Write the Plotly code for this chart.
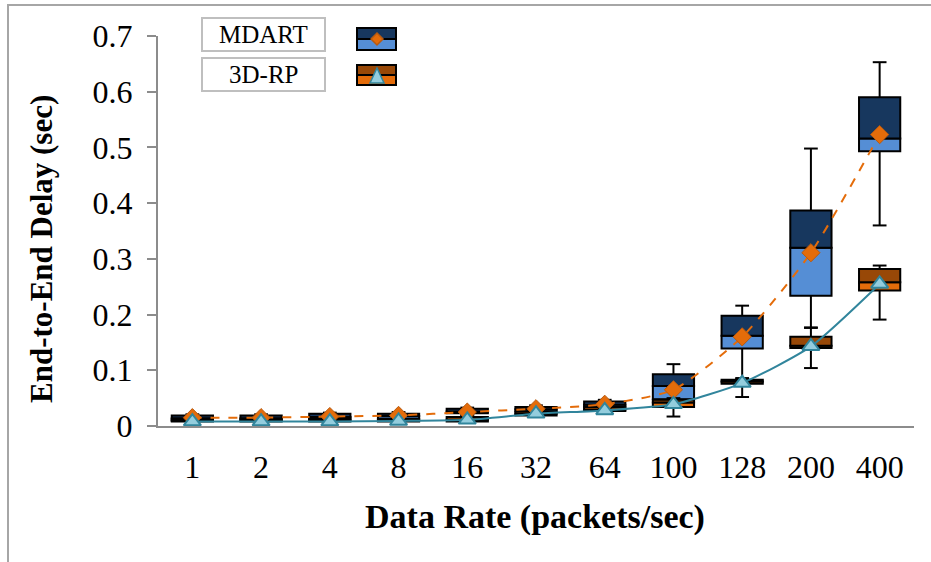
import plotly.graph_objects as go

# Data rates (categories) and box-plot statistics per protocol
rates = ["1", "2", "4", "8", "16", "32", "64", "100", "128", "200", "400"]

mdart_min = [0.008, 0.008, 0.009, 0.010, 0.020, 0.024, 0.030, 0.040, 0.085, 0.177, 0.360]
mdart_q1 = [0.010, 0.010, 0.012, 0.013, 0.023, 0.026, 0.033, 0.048, 0.139, 0.234, 0.493]
mdart_med = [0.014, 0.014, 0.016, 0.018, 0.026, 0.030, 0.038, 0.072, 0.162, 0.320, 0.516]
mdart_q3 = [0.019, 0.019, 0.022, 0.022, 0.031, 0.034, 0.044, 0.093, 0.198, 0.387, 0.590]
mdart_max = [0.021, 0.021, 0.024, 0.025, 0.033, 0.037, 0.047, 0.111, 0.216, 0.498, 0.653]
mdart_mean = [0.015, 0.015, 0.017, 0.019, 0.025, 0.031, 0.039, 0.065, 0.160, 0.311, 0.523]

rp_min = [0.006, 0.006, 0.006, 0.006, 0.006, 0.017, 0.024, 0.017, 0.052, 0.104, 0.191]
rp_q1 = [0.008, 0.008, 0.008, 0.008, 0.008, 0.019, 0.027, 0.034, 0.076, 0.140, 0.243]
rp_med = [0.010, 0.010, 0.010, 0.010, 0.011, 0.022, 0.029, 0.042, 0.080, 0.144, 0.258]
rp_q3 = [0.012, 0.012, 0.013, 0.013, 0.016, 0.026, 0.034, 0.047, 0.083, 0.160, 0.282]
rp_max = [0.014, 0.014, 0.015, 0.015, 0.018, 0.028, 0.036, 0.050, 0.086, 0.176, 0.288]
rp_mean = [0.008, 0.008, 0.008, 0.009, 0.011, 0.022, 0.028, 0.039, 0.077, 0.143, 0.255]

MD_DARK, MD_LIGHT = "#17375e", "#558ed5"
RP_DARK, RP_LIGHT = "#984807", "#e46c0a"
ORANGE = "#e46c0a"
TEAL, TEAL_FILL = "#31859c", "#93cddd"
SERIF = "Liberation Serif, Times New Roman, serif"

xs = list(range(len(rates)))
BOX_W = 0.6
CAP = 0.1

fig = go.Figure()


def add_box(q1, med, q3, lo, hi, dark, light):
    # lower half (Q1 -> median) and upper half (median -> Q3) as stacked bars
    fig.add_trace(go.Bar(x=xs, y=[m - a for a, m in zip(q1, med)], base=q1,
                         width=BOX_W, marker=dict(color=light, line=dict(color="black", width=2)),
                         showlegend=False, hoverinfo="skip"))
    fig.add_trace(go.Bar(x=xs, y=[b - m for m, b in zip(med, q3)], base=med,
                         width=BOX_W, marker=dict(color=dark, line=dict(color="black", width=2)),
                         showlegend=False, hoverinfo="skip"))
    # whiskers with caps
    wx, wy = [], []
    for x, a, b, c, d in zip(xs, lo, q1, q3, hi):
        wx += [x, x, None, x, x, None, x - CAP, x + CAP, None, x - CAP, x + CAP, None]
        wy += [a, b, None, c, d, None, a, a, None, d, d, None]
    fig.add_trace(go.Scatter(x=wx, y=wy, mode="lines", line=dict(color="black", width=2),
                             showlegend=False, hoverinfo="skip"))


add_box(mdart_q1, mdart_med, mdart_q3, mdart_min, mdart_max, MD_DARK, MD_LIGHT)
add_box(rp_q1, rp_med, rp_q3, rp_min, rp_max, RP_DARK, RP_LIGHT)

# mean lines
fig.add_trace(go.Scatter(x=xs, y=mdart_mean, mode="lines+markers",
                         line=dict(color=ORANGE, width=2, dash="dash", shape="spline", smoothing=0.6),
                         marker=dict(symbol="diamond", size=14, color=ORANGE,
                                     line=dict(color="#b85a10", width=1)),
                         showlegend=False, hoverinfo="skip"))
fig.add_trace(go.Scatter(x=xs, y=rp_mean, mode="lines+markers",
                         line=dict(color=TEAL, width=2, shape="spline", smoothing=0.6),
                         marker=dict(symbol="triangle-up", size=15, color=TEAL_FILL,
                                     line=dict(color=TEAL, width=2)),
                         showlegend=False, hoverinfo="skip"))

# ---- pixel helpers for the hand-drawn legend, titles and frame ----
W, H = 931, 562
L, R, T, B = 158, 17, 36, 136
PW, PH = W - L - R, H - T - B


def px(x):
    return (x - L) / PW


def py(y):
    return (H - B - y) / PH


shapes = []
annotations = []

# outer frame
shapes.append(dict(type="rect", xref="paper", yref="paper",
                   x0=px(8), x1=px(940), y0=py(5), y1=py(580),
                   line=dict(color="#a6a6a6", width=2), fillcolor="rgba(0,0,0,0)", layer="below"))

# axis titles
annotations.append(dict(xref="paper", yref="paper", x=px(535), y=py(517),
                        text="<b>Data Rate (packets/sec)</b>", showarrow=False,
                        font=dict(family=SERIF, size=34, color="black"),
                        xanchor="center", yanchor="middle"))
annotations.append(dict(xref="paper", yref="paper", x=px(41), y=py(249),
                        text="<b>End-to-End Delay (sec)</b>", showarrow=False, textangle=-90,
                        font=dict(family=SERIF, size=31, color="black"),
                        xanchor="center", yanchor="middle"))


def legend_entry(label, y0, y1, icon_y0, icon_split, icon_y1, dark, light, marker_path, mfill, mline):
    shapes.append(dict(type="rect", xref="paper", yref="paper",
                       x0=px(202), x1=px(325), y0=py(y1), y1=py(y0),
                       line=dict(color="#bfbfbf", width=2), fillcolor="white"))
    annotations.append(dict(xref="paper", yref="paper", x=px(263), y=py((y0 + y1) / 2),
                            text=label, showarrow=False,
                            font=dict(family=SERIF, size=25, color="black"),
                            xanchor="center", yanchor="middle"))
    shapes.append(dict(type="rect", xref="paper", yref="paper",
                       x0=px(357), x1=px(396), y0=py(icon_split), y1=py(icon_y0),
                       line=dict(color="black", width=2), fillcolor=dark))
    shapes.append(dict(type="rect", xref="paper", yref="paper",
                       x0=px(357), x1=px(396), y0=py(icon_y1), y1=py(icon_split),
                       line=dict(color="black", width=2), fillcolor=light))
    shapes.append(dict(type="path", xref="paper", yref="paper", path=marker_path,
                       fillcolor=mfill, line=dict(color=mline, width=1.5)))


cx, cy = 377, 39
diamond = "M {} {} L {} {} L {} {} L {} {} Z".format(
    px(cx), py(cy - 6), px(cx + 6), py(cy), px(cx), py(cy + 6), px(cx - 6), py(cy))
legend_entry("MDART", 18, 51, 28, 39, 50, MD_DARK, MD_LIGHT, diamond, ORANGE, "#b85a10")

tx, ty = 377, 76
triangle = "M {} {} L {} {} L {} {} Z".format(
    px(tx), py(ty - 8), px(tx + 7), py(ty + 7), px(tx - 7), py(ty + 7))
legend_entry("3D-RP", 58, 91, 65, 75, 85, RP_DARK, RP_LIGHT, triangle, TEAL_FILL, TEAL)

fig.update_layout(
    width=W, height=H,
    margin=dict(l=L, r=R, t=T, b=B),
    paper_bgcolor="white", plot_bgcolor="white",
    barmode="overlay",
    showlegend=False,
    shapes=shapes,
    annotations=annotations,
    font=dict(family=SERIF, color="black"),
    xaxis=dict(
        range=[-0.5, len(rates) - 0.5],
        tickmode="array", tickvals=xs, ticktext=rates,
        showline=True, linecolor="#8c8c8c", linewidth=2,
        ticks="", showgrid=False, zeroline=False,
        tickfont=dict(family=SERIF, size=32, color="black"),
        ticklabelstandoff=12,
    ),
    yaxis=dict(
        range=[0, 0.7], dtick=0.1, tick0=0,
        showline=True, linecolor="#8c8c8c", linewidth=2,
        ticks="outside", ticklen=9, tickcolor="#8c8c8c", tickwidth=2,
        showgrid=False, zeroline=False,
        tickfont=dict(family=SERIF, size=32, color="black"),
        ticklabelstandoff=8,
    ),
)

fig.write_html("out.html")
